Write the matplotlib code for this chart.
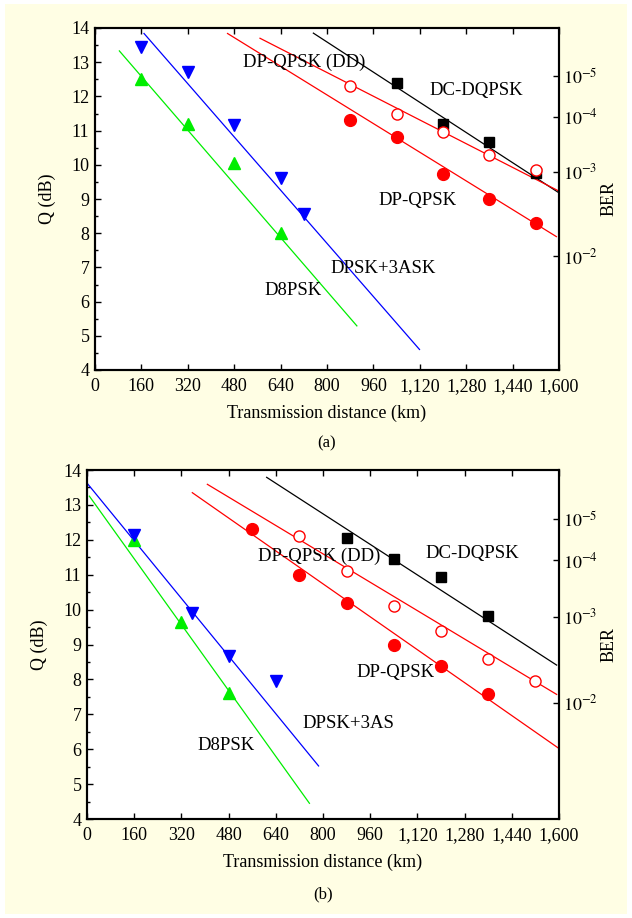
import math
import matplotlib
matplotlib.use("Agg")
import matplotlib.pyplot as plt
from matplotlib.patches import Rectangle
from matplotlib.ticker import MultipleLocator

plt.rcParams['font.family'] = ['Liberation Serif', 'DejaVu Serif']
plt.rcParams['mathtext.fontset'] = 'stix'
plt.rcParams['font.size'] = 13

# ---- panel (a) measured points ----
a_dpsk3ask_km = [160, 320, 480, 640, 720]
a_dpsk3ask_q = [13.45, 12.7, 11.15, 9.6, 8.55]
a_d8psk_km = [160, 320, 480, 640]
a_d8psk_q = [12.5, 11.2, 10.05, 8.0]
a_dcdqpsk_km = [1040, 1200, 1360, 1520]
a_dcdqpsk_q = [12.4, 11.2, 10.68, 9.75]
a_dpqpsk_dd_km = [880, 1040, 1200, 1360, 1520]
a_dpqpsk_dd_q = [12.3, 11.5, 10.97, 10.3, 9.85]
a_dpqpsk_km = [880, 1040, 1200, 1360, 1520]
a_dpqpsk_q = [11.3, 10.82, 9.73, 9.0, 8.3]

# panel (a) fitted lines (end points)
a_d8psk_fit_km = [84, 903]
a_d8psk_fit_q = [13.33, 5.29]
a_dpsk3ask_fit_km = [169, 1119]
a_dpsk3ask_fit_q = [13.84, 4.6]
a_dcdqpsk_fit_km = [753, 1600]
a_dcdqpsk_fit_q = [13.85, 9.18]
a_dpqpsk_dd_fit_km = [569, 1600]
a_dpqpsk_dd_fit_q = [13.7, 9.23]
a_dpqpsk_fit_km = [457, 1591]
a_dpqpsk_fit_q = [13.84, 7.9]

# ---- panel (b) measured points ----
b_dpsk3ask_km = [160, 355, 480, 640]
b_dpsk3ask_q = [12.15, 9.9, 8.68, 7.95]
b_d8psk_km = [160, 320, 480]
b_d8psk_q = [12.0, 9.65, 7.62]
b_dcdqpsk_km = [880, 1040, 1200, 1360]
b_dcdqpsk_q = [12.05, 11.45, 10.93, 9.82]
b_dpqpsk_dd_km = [720, 880, 1040, 1200, 1360, 1520]
b_dpqpsk_dd_q = [12.1, 11.1, 10.1, 9.4, 8.58, 7.95]
b_dpqpsk_km = [560, 720, 880, 1040, 1200, 1360]
b_dpqpsk_q = [12.3, 11.0, 10.18, 9.0, 8.38, 7.58]

# panel (b) fitted lines
b_d8psk_fit_km = [8, 754]
b_d8psk_fit_q = [13.25, 4.45]
b_dpsk3ask_fit_km = [-12, 785]
b_dpsk3ask_fit_q = [13.75, 5.52]
b_dcdqpsk_fit_km = [609, 1592]
b_dcdqpsk_fit_q = [13.79, 8.41]
b_dpqpsk_dd_fit_km = [408, 1592]
b_dpqpsk_dd_fit_q = [13.59, 7.57]
b_dpqpsk_fit_km = [357, 1600]
b_dpqpsk_fit_q = [13.35, 6.02]

ber_ticks = [1e-5, 1e-4, 1e-3, 1e-2]
ber_labels = ['$10^{-5}$', '$10^{-4}$', '$10^{-3}$', '$10^{-2}$']
x_ticks = [0, 160, 320, 480, 640, 800, 960, 1120, 1280, 1440, 1600]
x_labels = ['0', '160', '320', '480', '640', '800', '960',
            '1,120', '1,280', '1,440', '1,600']

GREEN = '#00ee00'


def ber_to_qdb(ber):
    # invert BER = 0.5*erfc(Q/sqrt(2)) by bisection
    lo, hi = 0.0, 20.0
    for _ in range(100):
        mid = (lo + hi) / 2
        if 0.5 * math.erfc(mid / math.sqrt(2)) > ber:
            lo = mid
        else:
            hi = mid
    return 20 * math.log10((lo + hi) / 2)


def style_axes(ax, caption):
    ax.set_xlim(0, 1600)
    ax.set_ylim(4, 14)
    ax.set_xticks(x_ticks)
    ax.set_xticklabels(x_labels)
    ax.xaxis.set_minor_locator(MultipleLocator(80))
    ax.yaxis.set_major_locator(MultipleLocator(1))
    ax.yaxis.set_minor_locator(MultipleLocator(0.5))
    ax.tick_params(which='both', direction='in', top=True, right=False,
                   width=1.0, labelsize=13)
    ax.tick_params(which='major', length=4.5)
    ax.tick_params(which='minor', length=2.5)
    ax.tick_params(axis='x', pad=6)
    ax.tick_params(axis='y', pad=4)
    for s in ax.spines.values():
        s.set_linewidth(1.5)
    ax.set_xlabel('Transmission distance (km)', fontsize=13, labelpad=7)
    ax.set_ylabel('Q (dB)', fontsize=13, labelpad=11)
    ax.text(0.5, -0.215, caption, transform=ax.transAxes, ha='center',
            va='center', fontsize=12)

    ax2 = ax.twinx()
    ax2.set_ylim(4, 14)
    ax2.set_yticks([ber_to_qdb(b) for b in ber_ticks])
    ax2.set_yticklabels(ber_labels)
    ax2.tick_params(direction='in', length=4.5, width=1.0, pad=3,
                    labelsize=13)
    ax2.minorticks_off()
    for s in ax2.spines.values():
        s.set_linewidth(1.5)
    ax2.set_ylabel('BER', fontsize=13, labelpad=2)


def draw_panel(ax, d, texts, caption):
    lw = 0.9
    ax.plot(d['d8_fit'][0], d['d8_fit'][1], color=GREEN, lw=lw)
    ax.plot(d['ask_fit'][0], d['ask_fit'][1], color='blue', lw=lw)
    ax.plot(d['dc_fit'][0], d['dc_fit'][1], color='black', lw=lw)
    ax.plot(d['dd_fit'][0], d['dd_fit'][1], color='red', lw=lw)
    ax.plot(d['dp_fit'][0], d['dp_fit'][1], color='red', lw=lw)

    ax.plot(d['d8'][0], d['d8'][1], '^', color=GREEN, ms=9, ls='none')
    ax.plot(d['ask'][0], d['ask'][1], 'v', color='blue', ms=9, ls='none')
    ax.plot(d['dc'][0], d['dc'][1], 's', color='black', ms=7, ls='none')
    ax.plot(d['dd'][0], d['dd'][1], 'o', mfc='white', mec='red', mew=1.0,
            ms=8, ls='none')
    ax.plot(d['dp'][0], d['dp'][1], 'o', color='red', ms=8.5, ls='none')

    for (x, y, s) in texts:
        ax.text(x, y, s, ha='left', va='center', fontsize=13.5)
    style_axes(ax, caption)


fig = plt.figure(figsize=(6.32, 9.18), dpi=100, facecolor='white')
fig.patches.append(Rectangle((5 / 632, 4 / 918), 622 / 632, 910 / 918,
                             transform=fig.transFigure, facecolor='#fffee4',
                             edgecolor='none', zorder=-10))

ax_a = fig.add_axes([95 / 632, 1 - 370 / 918, 464 / 632, 342 / 918])
ax_b = fig.add_axes([87 / 632, 1 - 819 / 918, 472 / 632, 349 / 918])

data_a = {
    'd8': (a_d8psk_km, a_d8psk_q), 'd8_fit': (a_d8psk_fit_km, a_d8psk_fit_q),
    'ask': (a_dpsk3ask_km, a_dpsk3ask_q),
    'ask_fit': (a_dpsk3ask_fit_km, a_dpsk3ask_fit_q),
    'dc': (a_dcdqpsk_km, a_dcdqpsk_q),
    'dc_fit': (a_dcdqpsk_fit_km, a_dcdqpsk_fit_q),
    'dd': (a_dpqpsk_dd_km, a_dpqpsk_dd_q),
    'dd_fit': (a_dpqpsk_dd_fit_km, a_dpqpsk_dd_fit_q),
    'dp': (a_dpqpsk_km, a_dpqpsk_q),
    'dp_fit': (a_dpqpsk_fit_km, a_dpqpsk_fit_q),
}
data_b = {
    'd8': (b_d8psk_km, b_d8psk_q), 'd8_fit': (b_d8psk_fit_km, b_d8psk_fit_q),
    'ask': (b_dpsk3ask_km, b_dpsk3ask_q),
    'ask_fit': (b_dpsk3ask_fit_km, b_dpsk3ask_fit_q),
    'dc': (b_dcdqpsk_km, b_dcdqpsk_q),
    'dc_fit': (b_dcdqpsk_fit_km, b_dcdqpsk_fit_q),
    'dd': (b_dpqpsk_dd_km, b_dpqpsk_dd_q),
    'dd_fit': (b_dpqpsk_dd_fit_km, b_dpqpsk_dd_fit_q),
    'dp': (b_dpqpsk_km, b_dpqpsk_q),
    'dp_fit': (b_dpqpsk_fit_km, b_dpqpsk_fit_q),
}

texts_a = [(510, 13.0, 'DP-QPSK (DD)'), (1155, 12.17, 'DC-DQPSK'),
           (979, 8.97, 'DP-QPSK'), (812, 6.98, 'DPSK+3ASK'),
           (586, 6.32, 'D8PSK')]
texts_b = [(580, 11.54, 'DP-QPSK (DD)'), (1146, 11.6, 'DC-DQPSK'),
           (914, 8.21, 'DP-QPSK'), (729, 6.75, 'DPSK+3AS'),
           (375, 6.12, 'D8PSK')]

draw_panel(ax_a, data_a, texts_a, '(a)')
draw_panel(ax_b, data_b, texts_b, '(b)')

fig.savefig('out.png', dpi=100, facecolor=fig.get_facecolor())
